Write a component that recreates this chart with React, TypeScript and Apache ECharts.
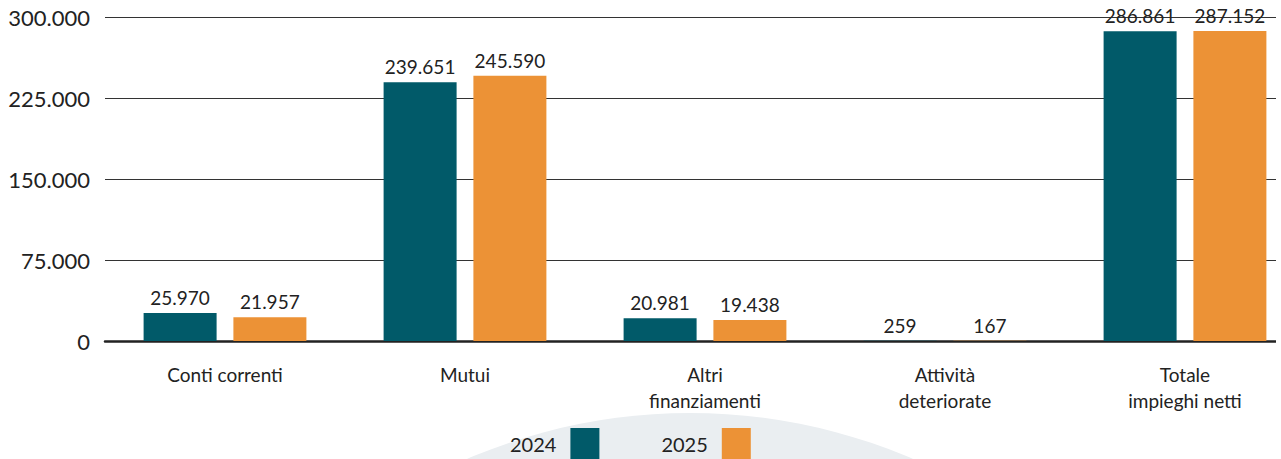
import React, { useEffect, useRef } from "react";
import * as echarts from "echarts";

const categories = [
  "Conti correnti",
  "Mutui",
  "Altri\nfinanziamenti",
  "Attività\ndeteriorate",
  "Totale\nimpieghi netti",
];
const seriesNames = ["2024", "2025"];
const values2024 = [25970, 239651, 20981, 259, 286861];
const values2025 = [21957, 245590, 19438, 167, 287152];
const yTicks = { min: 0, max: 300000, interval: 75000 };

const colors = ["#015a69", "#ec9236"];
const FONT = "Lato";

const fmt = (v: number) => String(Math.round(v)).replace(/\B(?=(\d{3})+(?!\d))/g, ".");

export default function App() {
  const ref = useRef<HTMLDivElement>(null);
  useEffect(() => {
    if (!ref.current) return;
    const chart = echarts.init(ref.current, undefined, { renderer: "svg" });
    const labelStyle = {
      show: true,
      position: "top" as const,
      distance: 6,
      color: "#222",
      fontFamily: FONT,
      fontSize: 19,
      formatter: (p: any) => fmt(p.value),
    };
    chart.setOption({
      animation: false,
      backgroundColor: "#fff",
      graphic: [
        {
          type: "circle",
          z: -10,
          silent: true,
          shape: { cx: 690, cy: 976.5, r: 563.5 },
          style: { fill: "#eaeef1" },
        },
      ],
      legend: {
        data: seriesNames,
        left: 510,
        top: 428,
        padding: 0,
        align: "right",
        itemWidth: 29,
        itemHeight: 31,
        itemGap: 62,
        icon: "rect",
        textStyle: {
          fontFamily: FONT,
          fontSize: 20,
          lineHeight: 20,
          color: "#222",
          padding: [0, 9, 0, 0],
        },
      },
      grid: { left: 105, top: 17, right: 5, bottom: 118, containLabel: false },
      xAxis: {
        type: "category",
        data: categories,
        axisTick: { show: false },
        axisLine: { show: true, lineStyle: { color: "#222", width: 2.5 } },
        axisLabel: {
          color: "#222",
          fontFamily: FONT,
          fontSize: 19,
          lineHeight: 26,
          margin: 20,
          interval: 0,
        },
      },
      yAxis: {
        type: "value",
        min: yTicks.min,
        max: yTicks.max,
        interval: yTicks.interval,
        axisLine: { show: false },
        axisTick: { show: false },
        splitLine: { lineStyle: { color: "#333", width: 1 } },
        axisLabel: {
          color: "#222",
          fontFamily: FONT,
          fontSize: 22,
          margin: 15,
          formatter: (v: number) => fmt(v),
        },
      },
      series: [
        {
          name: seriesNames[0],
          type: "bar",
          data: values2024,
          barWidth: 73,
          barGap: "23%",
          itemStyle: { color: colors[0] },
          label: labelStyle,
        },
        {
          name: seriesNames[1],
          type: "bar",
          data: values2025,
          barWidth: 73,
          itemStyle: { color: colors[1] },
          label: labelStyle,
        },
      ],
    });
    return () => chart.dispose();
  }, []);
  return (
    <div
      style={{
        position: "fixed",
        left: 0,
        top: 0,
        width: 1276,
        height: 459,
        overflow: "hidden",
      }}
    >
      <div ref={ref} style={{ width: 1310, height: 459 }} />
    </div>
  );
}
